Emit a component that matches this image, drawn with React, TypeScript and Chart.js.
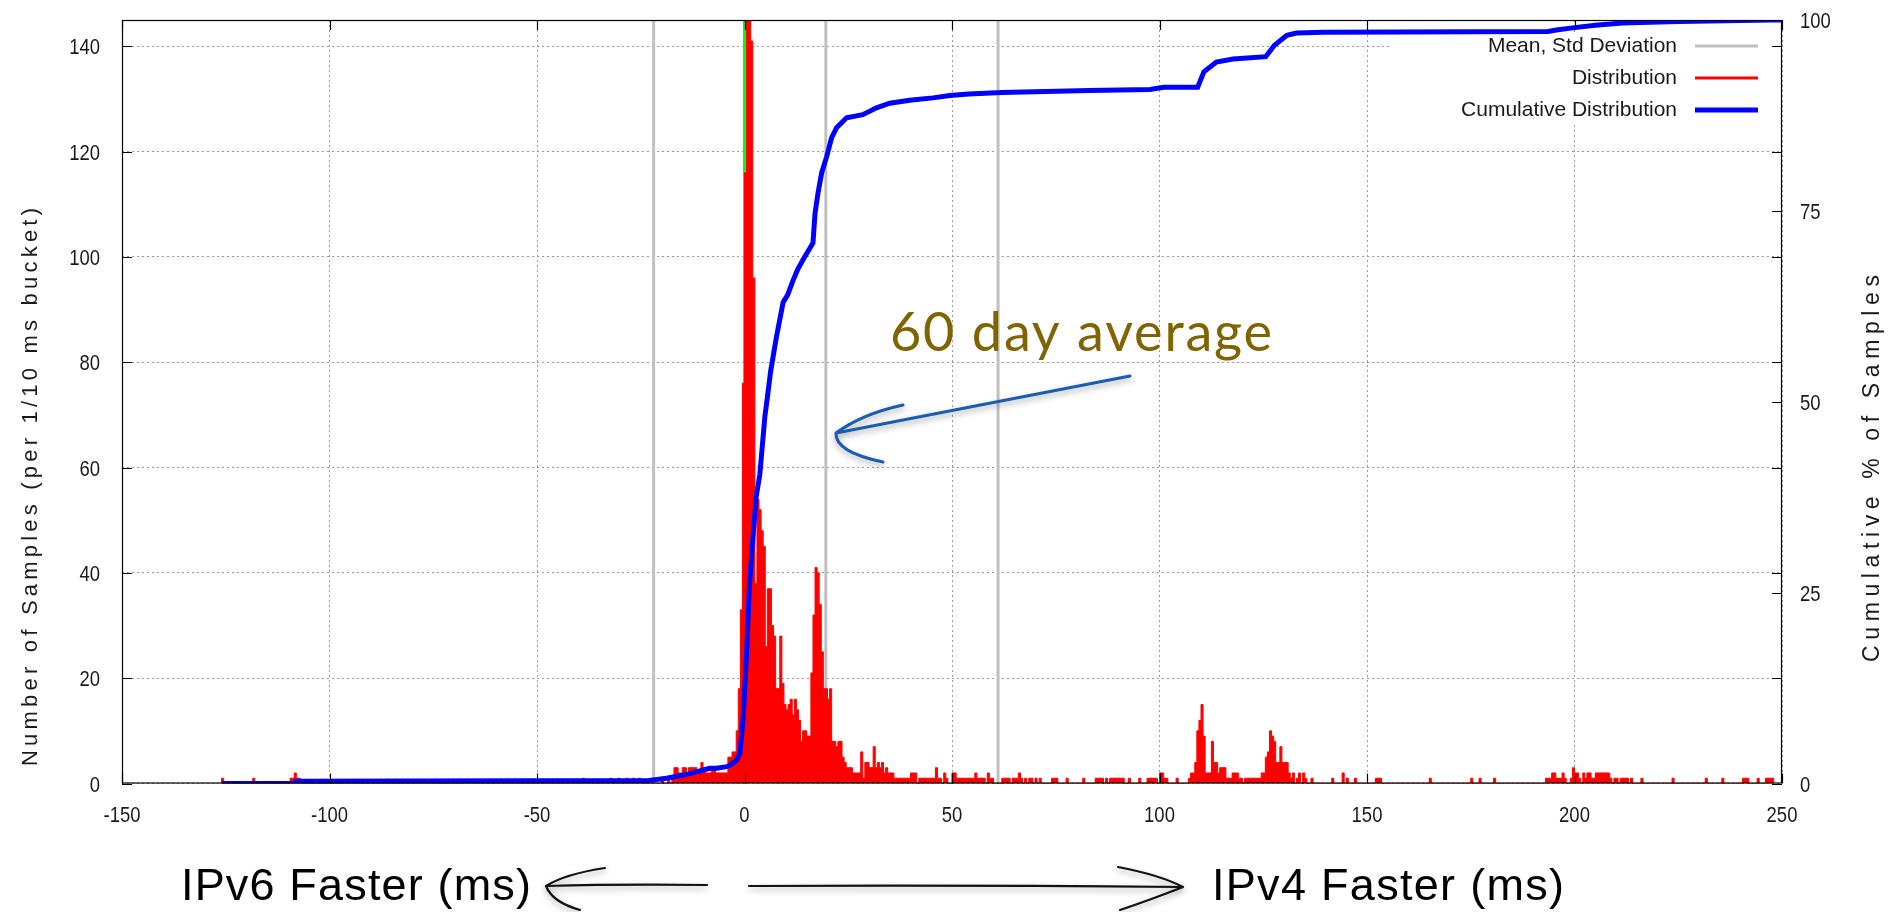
import React, { useEffect, useRef } from 'react';
import { Chart, registerables } from 'chart.js';

Chart.register(...registerables);

const W = 1895;
const H = 912;
const FONT = "'Liberation Sans', Arial, Helvetica, sans-serif";

// ---- axes ----
const xMin = -150;
const xMax = 250;
const xStep = 50;
const yMax = 145;
const yStep = 20;
const y2Max = 100;
const y2Step = 25;

// ---- texts ----
const yTitle = 'Number of Samples (per 1/10 ms bucket)';
const y2Title = 'Cumulative % of Samples';
const leftNote = 'IPv6 Faster (ms)';
const rightNote = 'IPv4 Faster (ms)';
const avgNote = '60 day average';
const legendLabels = ['Mean, Std Deviation', 'Distribution', 'Cumulative Distribution'];
const legendColors = ['#c0c0c0', '#ff0000', '#0000ff'];
const legendWidths = [3, 3, 5];

// ---- distribution: [bucket start ms, bucket end ms, samples] ----
const distSegments: [number, number, number][] = [
  [-126, -125.5, 1], [-118.5, -118, 1], [-109.5, -108.5, 1], [-108.5, -108, 2], [-108, -107, 1],
  [-39, -38.5, 1], [-32.5, -32, 1], [-30.5, -30, 1], [-28.5, -28, 1], [-27, -26.5, 1], [-25.5, -25, 1],
  [-20, -19.5, 1], [-18.5, -18, 1], [-17.5, -17, 1], [-17, -16, 3], [-16, -15, 2], [-15, -14, 3],
  [-14, -13.5, 2], [-13.5, -11.5, 3], [-11.5, -10.5, 2], [-10.5, -10, 4], [-10, -9.5, 3], [-9.5, -8, 2],
  [-8, -7, 3], [-7, -4, 2], [-4, -3, 5], [-3, -2, 6], [-2, -1.5, 10], [-1.5, -1, 18], [-1, -0.5, 33],
  [-0.5, 0, 76], [0, 0.5, 116], [0.5, 1.5, 170], [1.5, 2, 141], [2, 2.5, 96], [2.5, 3, 38], [3, 3.5, 54],
  [3.5, 4, 52], [4, 4.5, 48], [4.5, 5, 45], [5, 5.5, 26], [5.5, 6.5, 37], [6.5, 7, 30], [7, 7.5, 28],
  [7.5, 8.5, 18], [8.5, 9, 28], [9, 9.5, 19], [9.5, 10, 15], [10, 10.5, 14], [10.5, 11, 15], [11, 11.5, 16],
  [11.5, 12, 13], [12, 12.5, 16], [12.5, 13, 14], [13, 13.5, 12], [13.5, 14, 8], [14, 15, 10], [15, 16, 9],
  [16, 16.5, 21], [16.5, 17, 32], [17, 17.5, 41], [17.5, 18, 40], [18, 18.5, 34], [18.5, 19, 25],
  [19, 20, 18], [20, 20.5, 16], [20.5, 21, 18], [21, 22, 8], [22, 22.5, 7], [22.5, 23.5, 8], [23.5, 24, 5],
  [24, 24.5, 4], [24.5, 26, 3], [26, 28, 2], [28, 28.5, 6], [28.5, 29, 1], [29, 30, 4], [30, 31, 3],
  [31, 31.5, 7], [31.5, 32, 3], [32, 32.5, 4], [32.5, 33, 3], [33, 33.5, 4], [33.5, 34, 2], [34, 34.5, 3],
  [34.5, 36, 2], [36, 40, 1], [40, 41.5, 2], [42, 46, 1], [46, 46.5, 3], [46.5, 47.5, 1], [48, 48.5, 2],
  [48.5, 49, 1], [50, 51, 2], [51, 55.5, 1], [55.5, 56, 2], [56, 58, 1], [58.5, 59, 2], [59, 60, 1],
  [62, 64, 1], [64.5, 66, 1], [66, 66.5, 2], [66.5, 67, 1], [67.5, 68, 1], [68.5, 69.5, 1], [70, 70.5, 1],
  [71, 71.5, 1], [74, 75.5, 1], [77.5, 78, 1], [81.5, 82, 1], [84.5, 86.5, 1], [87, 87.5, 1], [88, 91.5, 1],
  [92.5, 93, 1], [95, 95.5, 1], [97, 99.5, 1], [100, 101, 2], [101, 102, 1], [104, 104.5, 1], [107, 107.5, 1],
  [107.5, 108.5, 2], [108.5, 109, 4], [109, 109.5, 10], [109.5, 110, 12], [110, 110.5, 15], [110.5, 111, 9],
  [111, 112.5, 2], [112.5, 113, 8], [113, 114, 4], [114, 114.5, 2], [114.5, 116, 3], [116, 117.5, 1],
  [117.5, 119, 2], [119, 120, 1], [120.5, 124.5, 1], [124.5, 125.5, 2], [125.5, 126, 5], [126, 126.5, 6],
  [126.5, 127, 10], [127, 127.5, 9], [127.5, 128, 8], [128, 129, 4], [129, 129.5, 7], [129.5, 131, 4],
  [131, 131.5, 2], [131.5, 132, 1], [132, 132.5, 2], [133, 133.5, 1], [133.5, 134, 2], [134.5, 135, 2],
  [135, 135.5, 1], [136.5, 137, 1], [141.5, 142, 1], [144, 144.5, 2], [145, 145.5, 1], [147, 147.5, 1],
  [152, 153.5, 1], [165, 165.5, 1], [175, 175.5, 1], [177, 177.5, 1], [180.5, 181, 1], [193, 194.5, 1],
  [194.5, 195.5, 2], [195.5, 197, 1], [197, 197.5, 2], [197.5, 198, 1], [199, 199.5, 1], [199.5, 200, 3],
  [200, 201, 2], [201, 201.5, 1], [202, 202.5, 2], [202.5, 203, 1], [203, 204, 2], [204, 205, 1],
  [205, 208.5, 2], [208.5, 209, 1], [209.5, 210.5, 1], [211, 213, 1], [213.5, 214, 1], [216, 216.5, 1],
  [223.5, 224, 1], [231.5, 232, 1], [235.5, 236, 1], [240.5, 242, 1], [244, 244.5, 1], [246, 248, 1],
];

// ---- cumulative distribution: [ms, % of samples] ----
const cumulative: [number, number][] = [
  [-126, 0], [-108.5, 0], [-108, 0.3], [-23, 0.4], [-18.8, 0.7], [-14.8, 1.1], [-13.2, 1.3], [-8.4, 2.0],
  [-6.7, 2.0], [-4.3, 2.2], [-3.5, 2.4], [-2, 3.0], [-1.1, 4.0], [-0.3, 8.7], [0.5, 17], [1.2, 26], [2, 32],
  [2.8, 37.5], [3.7, 40.5], [4.9, 48], [5.5, 50.5], [6.3, 54], [7.7, 58.5], [9.3, 63], [10.4, 64],
  [11.7, 65.9], [12.8, 67.3], [14.1, 68.6], [16.5, 70.8], [17.0, 74.7], [17.7, 77.3], [18.6, 80.0],
  [19.8, 82.1], [21.0, 84.6], [22.2, 85.9], [24.6, 87.2], [28.5, 87.6], [31.8, 88.5], [35.0, 89.1],
  [39.8, 89.5], [45.4, 89.8], [49.5, 90.1], [54, 90.3], [62, 90.5], [83, 90.75], [97.7, 90.9], [101, 91.2],
  [109.2, 91.2], [110.7, 93.2], [113.7, 94.5], [117.7, 94.9], [125.6, 95.2], [127.7, 96.7], [130.7, 98.0],
  [133, 98.3], [139.6, 98.4], [193.6, 98.5], [195.6, 98.7], [200, 99.0], [205, 99.3], [211.6, 99.6],
  [225, 99.8], [247.6, 100], [250, 100],
];

// mean - std, mean, mean + std (ms)
const statLines = [-21.9, 19.6, 61.1];
const zeroLine = [0];

function buildSteps() {
  const pts: { x: number; y: number }[] = [];
  distSegments.forEach(([s, e, c], i) => {
    if (i === 0 || distSegments[i - 1][1] < s) pts.push({ x: s, y: 0 });
    pts.push({ x: s, y: c });
    if (i === distSegments.length - 1 || distSegments[i + 1][0] > e) pts.push({ x: e, y: 0 });
  });
  return pts;
}

function vLines(xs: number[]) {
  const pts: { x: number; y: number | null }[] = [];
  xs.forEach((v) => {
    pts.push({ x: v, y: 0 }, { x: v, y: yMax }, { x: v, y: null });
  });
  return pts;
}

function drawSpaced(ctx: CanvasRenderingContext2D, text: string, x: number, y: number, width: number) {
  (ctx as any).letterSpacing = '0px';
  const w = ctx.measureText(text).width;
  const extra = text.length > 1 ? (width - w) / (text.length - 1) : 0;
  (ctx as any).letterSpacing = `${extra}px`;
  ctx.fillText(text, x, y);
  (ctx as any).letterSpacing = '0px';
}

function narrowText(ctx: CanvasRenderingContext2D, text: string, x: number, y: number, sx: number) {
  ctx.save();
  ctx.translate(x, y);
  ctx.scale(sx, 1);
  ctx.fillText(text, 0, 0);
  ctx.restore();
}

const NARROW = 0.84;
const TICK_FONT = `22px ${FONT}`;

const decor = {
  id: 'decor',
  beforeDatasetsDraw(chart: any) {
    const ctx = chart.ctx as CanvasRenderingContext2D;
    const a = chart.chartArea;
    ctx.save();
    ctx.fillStyle = '#ffffff';
    ctx.fillRect(1390, 35, a.right - 1390 - 1, 90);
    ctx.restore();
  },
  afterDatasetsDraw(chart: any) {
    const ctx = chart.ctx as CanvasRenderingContext2D;
    const a = chart.chartArea;
    const sx = chart.scales.x;
    const sy = chart.scales.y;
    const sy2 = chart.scales.y2;
    ctx.save();
    // border
    ctx.strokeStyle = '#000';
    ctx.lineWidth = 1.2;
    ctx.strokeRect(a.left + 0.5, a.top + 0.5, a.right - a.left - 1, a.bottom - a.top - 1);
    // inward ticks
    const TL = 10;
    ctx.beginPath();
    sx.ticks.forEach((t: any) => {
      const px = Math.round(sx.getPixelForValue(t.value)) + 0.5;
      ctx.moveTo(px, a.bottom);
      ctx.lineTo(px, a.bottom - TL);
      ctx.moveTo(px, a.top);
      ctx.lineTo(px, a.top + TL);
    });
    sy.ticks.forEach((t: any) => {
      const py = Math.round(sy.getPixelForValue(t.value)) + 0.5;
      ctx.moveTo(a.left, py);
      ctx.lineTo(a.left + TL, py);
      ctx.moveTo(a.right, py);
      ctx.lineTo(a.right - TL, py);
    });
    sy2.ticks.forEach((t: any) => {
      const py = Math.round(sy2.getPixelForValue(t.value)) + 0.5;
      ctx.moveTo(a.right, py);
      ctx.lineTo(a.right - TL, py);
    });
    ctx.stroke();

    // tick labels (narrow face, like the original)
    ctx.fillStyle = '#1a1a1a';
    ctx.font = TICK_FONT;
    ctx.textBaseline = 'alphabetic';
    ctx.textAlign = 'center';
    sx.ticks.forEach((t: any) => {
      narrowText(ctx, String(t.label), sx.getPixelForValue(t.value), 822, NARROW);
    });
    ctx.textAlign = 'right';
    sy.ticks.forEach((t: any) => {
      narrowText(ctx, String(t.label), 100, sy.getPixelForValue(t.value) + 8, NARROW);
    });
    ctx.textAlign = 'left';
    sy2.ticks.forEach((t: any) => {
      narrowText(ctx, String(t.label), 1800, sy2.getPixelForValue(t.value) + 8, NARROW);
    });

    // legend
    ctx.font = `21px ${FONT}`;
    ctx.fillStyle = '#1a1a1a';
    ctx.textAlign = 'right';
    ctx.textBaseline = 'middle';
    legendLabels.forEach((lab, i) => {
      const y = 46 + 32 * i;
      ctx.fillText(lab, 1677, y);
      ctx.strokeStyle = legendColors[i];
      ctx.lineWidth = legendWidths[i];
      ctx.beginPath();
      ctx.moveTo(1695, y);
      ctx.lineTo(1758, y);
      ctx.stroke();
    });

    // axis titles
    ctx.fillStyle = '#1a1a1a';
    ctx.textAlign = 'left';
    ctx.textBaseline = 'alphabetic';
    ctx.font = `22px ${FONT}`;
    ctx.save();
    ctx.translate(37, 766);
    ctx.rotate(-Math.PI / 2);
    drawSpaced(ctx, yTitle, 0, 0, 558);
    ctx.restore();
    ctx.font = `23px ${FONT}`;
    ctx.save();
    ctx.translate(1879, 662);
    ctx.rotate(-Math.PI / 2);
    drawSpaced(ctx, y2Title, 0, 0, 387);
    ctx.restore();

    // big bottom notes
    ctx.fillStyle = '#000';
    ctx.font = `45px ${FONT}`;
    ctx.textAlign = 'left';
    ctx.textBaseline = 'alphabetic';
    drawSpaced(ctx, leftNote, 181, 900, 350);
    drawSpaced(ctx, rightNote, 1212, 900, 352);

    // hand-drawn arrows with shadow
    ctx.shadowColor = 'rgba(0,0,0,0.35)';
    ctx.shadowBlur = 6;
    ctx.shadowOffsetY = 3;
    ctx.lineCap = 'round';
    ctx.strokeStyle = '#111';
    ctx.lineWidth = 2.2;
    ctx.beginPath();
    ctx.moveTo(707, 885);
    ctx.quadraticCurveTo(620, 884, 546, 886);
    ctx.moveTo(546, 886);
    ctx.quadraticCurveTo(565, 874, 605, 868);
    ctx.moveTo(546, 886);
    ctx.quadraticCurveTo(552, 902, 580, 910);
    ctx.moveTo(749, 886);
    ctx.quadraticCurveTo(960, 885, 1183, 887);
    ctx.moveTo(1118, 867);
    ctx.quadraticCurveTo(1160, 875, 1183, 887);
    ctx.moveTo(1183, 887);
    ctx.quadraticCurveTo(1150, 900, 1120, 910);
    ctx.stroke();

    ctx.strokeStyle = '#1a5cb4';
    ctx.lineWidth = 3;
    ctx.beginPath();
    ctx.moveTo(1130, 376);
    ctx.lineTo(836, 433);
    ctx.moveTo(836, 433);
    ctx.quadraticCurveTo(862, 414, 903, 405);
    ctx.moveTo(836, 433);
    ctx.quadraticCurveTo(835, 452, 883, 462);
    ctx.stroke();

    ctx.shadowColor = 'transparent';
    ctx.shadowBlur = 0;
    ctx.shadowOffsetY = 0;
    ctx.fillStyle = '#7f6400';
    ctx.font = `400 54px Lato, 'Noto Sans', sans-serif`;
    drawSpaced(ctx, avgNote, 890, 351, 382);
    ctx.restore();
  },
};

export default function App() {
  const ref = useRef<HTMLCanvasElement>(null);
  useEffect(() => {
    document.body.style.margin = '0';
    const noPadY = (s: any, w: number) => {
      s.width = w;
      s.paddingTop = 0;
      s.paddingBottom = 0;
    };
    const chart = new Chart(ref.current as HTMLCanvasElement, {
      type: 'line',
      data: {
        datasets: [
          {
            label: legendLabels[2],
            data: cumulative.map(([x, y]) => ({ x, y })),
            yAxisID: 'y2',
            borderColor: '#0000ff',
            borderWidth: 5,
            pointRadius: 0,
            fill: false,
            tension: 0,
          },
          {
            label: legendLabels[1],
            data: buildSteps(),
            yAxisID: 'y',
            borderColor: '#ff0000',
            backgroundColor: '#ff0000',
            borderWidth: 1,
            pointRadius: 0,
            stepped: true,
            fill: 'origin',
          },
          {
            label: legendLabels[0],
            data: vLines(statLines) as any,
            yAxisID: 'y',
            borderColor: '#c0c0c0',
            borderWidth: 3,
            pointRadius: 0,
            spanGaps: false,
            fill: false,
          },
          {
            label: 'zero',
            data: vLines(zeroLine) as any,
            yAxisID: 'y',
            borderColor: '#00ff00',
            borderWidth: 3,
            pointRadius: 0,
            spanGaps: false,
            fill: false,
          },
        ],
      },
      options: {
        animation: false,
        responsive: false,
        maintainAspectRatio: false,
        layout: { padding: { top: 20, left: 0, right: 0, bottom: 0 } },
        plugins: { legend: { display: false }, tooltip: { enabled: false } },
        scales: {
          x: {
            type: 'linear',
            min: xMin,
            max: xMax,
            position: 'bottom',
            ticks: { stepSize: xStep, display: false, autoSkip: false },
            grid: { color: '#9a9a9a', lineWidth: 1, drawTicks: false },
            border: { display: false, dash: [2, 3] },
            afterFit: (s: any) => {
              s.height = H - 783.5;
              s.paddingLeft = 0;
              s.paddingRight = 0;
            },
          },
          y: {
            type: 'linear',
            min: 0,
            max: yMax,
            position: 'left',
            ticks: { stepSize: yStep, includeBounds: false, display: false },
            grid: { color: '#9a9a9a', lineWidth: 1, drawTicks: false },
            border: { display: false, dash: [2, 3] },
            afterFit: (s: any) => noPadY(s, 122),
          },
          y2: {
            type: 'linear',
            min: 0,
            max: y2Max,
            position: 'right',
            ticks: { stepSize: y2Step, display: false },
            grid: { display: false, drawTicks: false },
            border: { display: false },
            afterFit: (s: any) => noPadY(s, W - 1782),
          },
        },
      } as any,
      plugins: [decor],
    });
    return () => chart.destroy();
  }, []);
  return (
    <div style={{ position: 'fixed', left: 0, top: 0, width: W, height: H, background: '#fff' }}>
      <canvas ref={ref} width={W} height={H} style={{ width: W, height: H, display: 'block' }} />
    </div>
  );
}
